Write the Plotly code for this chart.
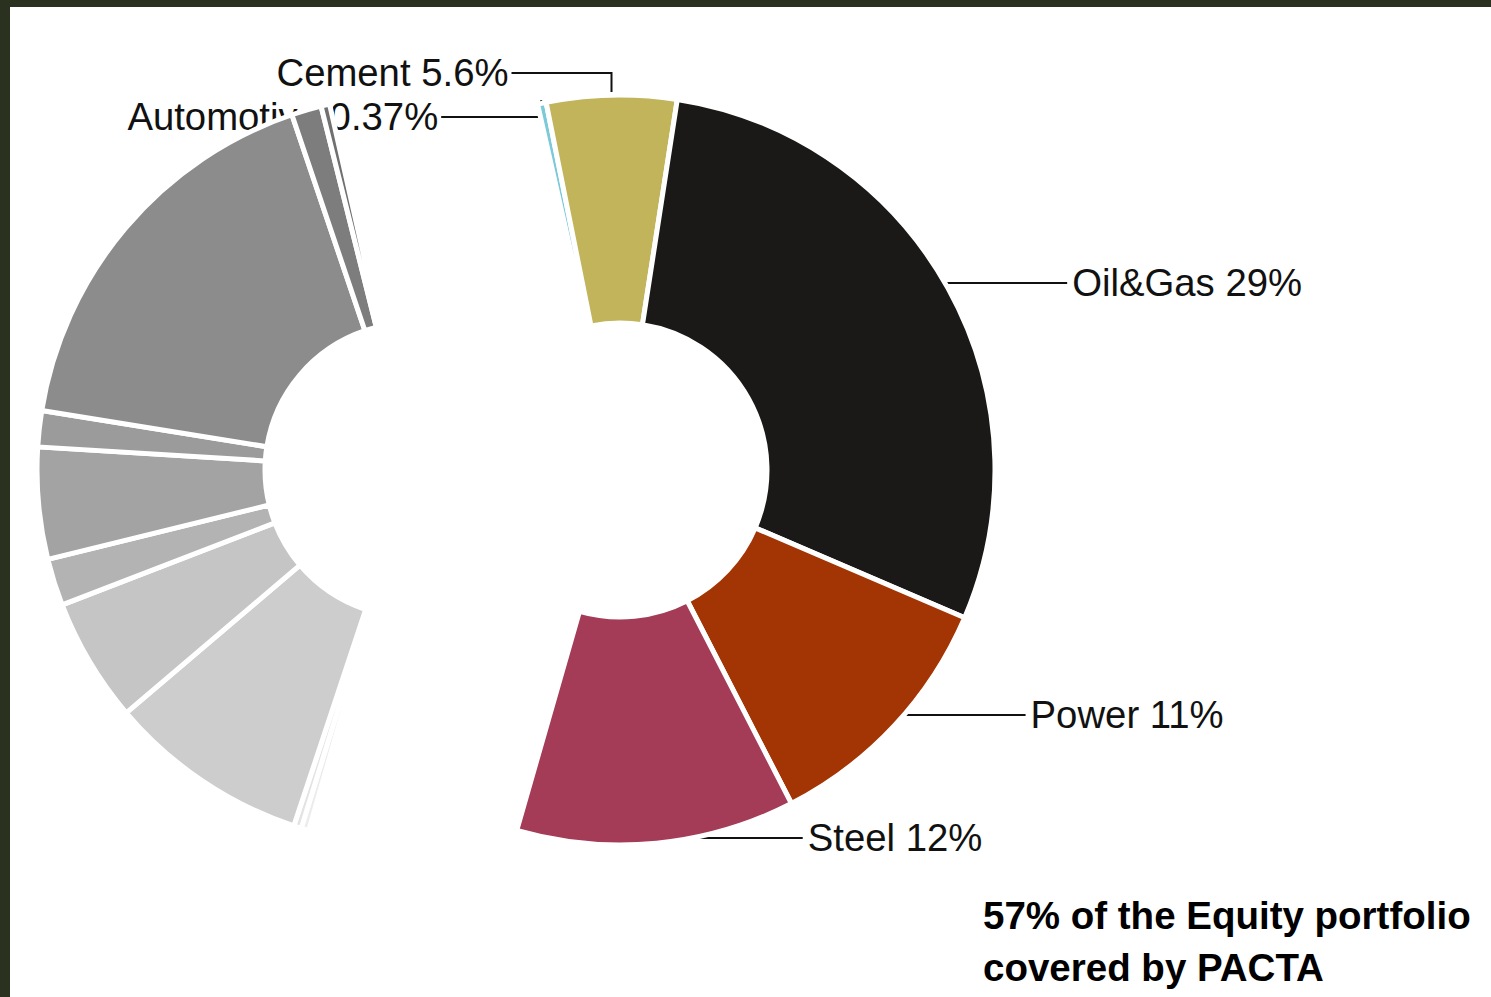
import math
import plotly.graph_objects as go

# Equity portfolio exposure, % of portfolio value, listed clockwise from the top
sectors = ["Automotive", "Cement", "Oil&Gas", "Power", "Steel"]
sector_share = [0.37, 5.6, 29, 11, 12]

# Holdings outside the PACTA sectors, continuing clockwise
other_names = ["Other A", "Other B", "Other C", "Other D", "Other E",
               "Other F", "Other G", "Other H", "Other I", "Other J"]
other_share = [0.33, 0.33, 8.69, 5.35, 2.03, 4.81, 1.55, 17.28, 1.29, 0.37]

caption_lines = ["57% of the Equity portfolio", "covered by PACTA"]

# ---- styling -------------------------------------------------------------
sector_colors = ["#7cc9da", "#c1b45b", "#1a1917", "#a33403", "#a43b57"]
other_colors = ["#ececec", "#e3e3e3", "#cdcdcd", "#c5c5c5", "#b3b3b3",
                "#a3a3a3", "#9b9b9b", "#8c8c8c", "#7d7d7d", "#707070"]
CLEAR = "rgba(0,0,0,0)"
FRAME = "#2b311f"
FONT = "Liberation Sans, Arial, sans-serif"

# ---- layout geometry (pixels) --------------------------------------------
W, H = 1491, 997
FRAME_LEFT, FRAME_TOP = 10, 7
R_OUT = 375            # pie radius incl. half of the slice outline
HOLE = 0.392
ROTATION = -12.7
GAP = 5
COVERED_CX, OTHER_CX, CY = 620, 412, 470

# label placement: side of the ring and the text row
label_side = {"Automotive": "left", "Cement": "left", "Oil&Gas": "right",
              "Power": "right", "Steel": "right"}
label_row = {"Automotive": 117, "Cement": 73, "Oil&Gas": 283,
             "Power": 715, "Steel": 838}
LEADER_LEN_RIGHT = 125
LEADER_LEN_LEFT = 100
TEXT_GAP = 5
TEXT_DROP = 3


def pie_domain(cx):
    return dict(x=[(cx - R_OUT) / W, (cx + R_OUT) / W],
                y=[(H - CY - R_OUT) / H, (H - CY + R_OUT) / H])


labels = sectors + other_names
values = sector_share + other_share
n_sec, n_oth = len(sectors), len(other_names)

fig = go.Figure()

# PACTA sectors, drawn as one donut
fig.add_trace(go.Pie(
    labels=labels, values=values, sort=False, direction="clockwise",
    rotation=ROTATION, hole=HOLE, textinfo="none", hoverinfo="skip",
    showlegend=False, domain=pie_domain(COVERED_CX),
    marker=dict(colors=sector_colors + [CLEAR] * n_oth,
                line=dict(color=["white"] * n_sec + [CLEAR] * n_oth, width=GAP)),
))
# remaining holdings, same donut shifted to the left
fig.add_trace(go.Pie(
    labels=labels, values=values, sort=False, direction="clockwise",
    rotation=ROTATION, hole=HOLE, textinfo="none", hoverinfo="skip",
    showlegend=False, domain=pie_domain(OTHER_CX),
    marker=dict(colors=[CLEAR] * n_sec + other_colors,
                line=dict(color=[CLEAR] * n_sec + ["white"] * n_oth, width=GAP)),
))

# ---- leader lines and labels ----------------------------------------------
total = sum(values)
mid_angle = {}
acc = ROTATION
for name, v in zip(labels, values):
    span = v / total * 360
    mid_angle[name] = acc + span / 2
    acc += span

r_edge = R_OUT - GAP / 2
lx, ly = [], []
rx_t, ry_t, rtxt = [], [], []
lx_t, ly_t, ltxt = [], [], []
for name, v in zip(sectors, sector_share):
    text = f"{name} {v:g}%"
    row = label_row[name]
    if label_side[name] == "right":
        dy = row - CY
        edge_x = COVERED_CX + math.sqrt(max(r_edge ** 2 - dy ** 2, 0))
        end_x = edge_x + LEADER_LEN_RIGHT
        # starts under the slice, so only the part outside the ring shows
        lx += [COVERED_CX, end_x, None]
        ly += [row, row, None]
        rx_t.append(end_x + TEXT_GAP)
        ry_t.append(row + TEXT_DROP)
        rtxt.append(text)
    else:
        a = math.radians(mid_angle[name])
        ax = COVERED_CX + (R_OUT + 3) * math.sin(a)
        ay = CY - (R_OUT + 3) * math.cos(a)
        end_x = ax - LEADER_LEN_LEFT
        lx += [ax, ax, end_x, None]
        ly += [ay, row, row, None]
        lx_t.append(end_x - TEXT_GAP + 2)
        ly_t.append(row + TEXT_DROP)
        ltxt.append(text)

fig.add_trace(go.Scatter(x=lx, y=ly, mode="lines", hoverinfo="skip",
                         line=dict(color="#111111", width=2), showlegend=False))
label_font = dict(family=FONT, size=38.3, color="#111111")
fig.add_trace(go.Scatter(x=rx_t, y=ry_t, text=rtxt, mode="text",
                         textposition="middle right", textfont=label_font,
                         hoverinfo="skip", showlegend=False))
fig.add_trace(go.Scatter(x=lx_t, y=ly_t, text=ltxt, mode="text",
                         textposition="middle left", textfont=label_font,
                         hoverinfo="skip", showlegend=False))

for i, line in enumerate(caption_lines):
    fig.add_annotation(x=981, y=915 + 52 * i, xref="x", yref="y",
                       text=f"<b>{line}</b>", showarrow=False,
                       xanchor="left", yanchor="middle",
                       font=dict(family=FONT, size=38.5, color="#000000"))

fig.update_layout(
    width=W, height=H, margin=dict(l=0, r=0, t=0, b=0, pad=0),
    paper_bgcolor=FRAME, plot_bgcolor="white",
    xaxis=dict(domain=[FRAME_LEFT / W, 1], range=[FRAME_LEFT, W],
               visible=False, fixedrange=True),
    yaxis=dict(domain=[0, 1 - FRAME_TOP / H], range=[H, FRAME_TOP],
               visible=False, fixedrange=True),
)

fig.write_html("out.html")
